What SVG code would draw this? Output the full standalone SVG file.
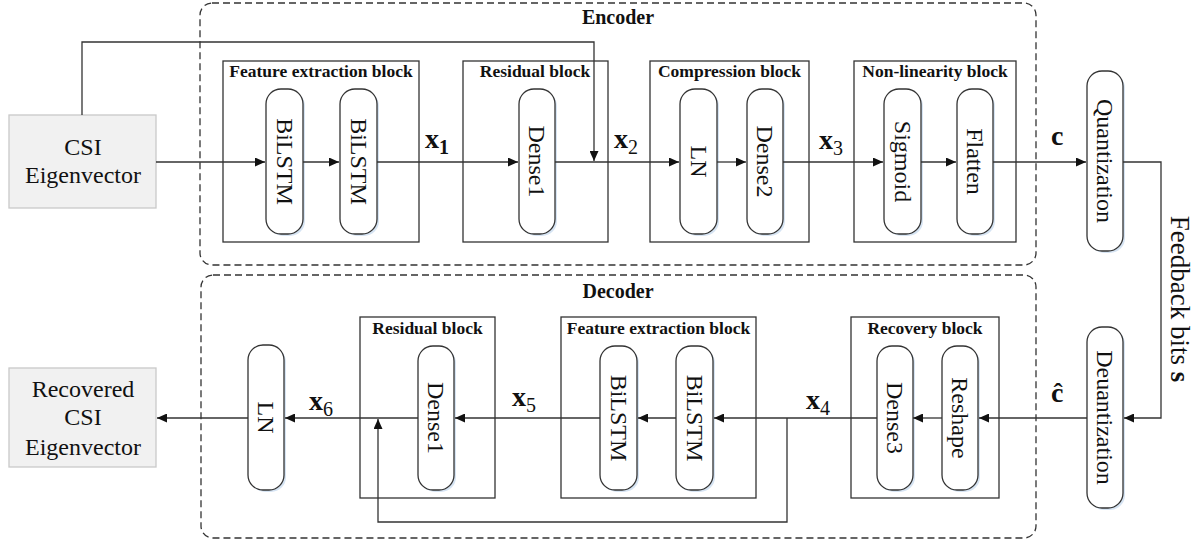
<svg xmlns="http://www.w3.org/2000/svg" width="1203" height="543" viewBox="0 0 1203 543">
<style>
.bg{fill:#ffffff}
.group{fill:none;stroke:#333;stroke-width:1.3;stroke-dasharray:7,4}
.blk{fill:none;stroke:#333;stroke-width:1.3}
.pill{fill:#ffffff;stroke:#333;stroke-width:1.3}
.shadow{fill:#d6e4f3}
.io{fill:#f1f1f1;stroke:#c9c9c9;stroke-width:1.3}
.t{font-family:"Liberation Serif","Times New Roman",serif;fill:#111}
.big{font-size:24px}
.title{font-size:20px;font-weight:bold}
.btitle{font-size:17.5px;font-weight:bold}
.var{font-size:28px;font-weight:bold}
.sub{font-size:20px}
.conn{fill:none;stroke:#333;stroke-width:1.3}
</style>
<defs>
<marker id="ah" markerUnits="userSpaceOnUse" markerWidth="11" markerHeight="9" refX="10" refY="4.5" orient="auto">
<path d="M0,0 L10,4.5 L0,9 z" fill="#111"/>
</marker>
</defs>
<rect class="bg" x="0" y="0" width="1203" height="543"/>

<g id="encoder">
<rect class="group" x="200" y="3" width="836" height="262" rx="12"/>
<text class="t title" x="618" y="24" text-anchor="middle">Encoder</text>
</g>
<g id="decoder">
<rect class="group" x="201" y="275" width="835" height="263" rx="12"/>
<text class="t title" x="618" y="298" text-anchor="middle">Decoder</text>
</g>

<g id="csi-in">
<rect class="io" x="9" y="115" width="147" height="93"/>
<text class="t big" x="83" y="155" text-anchor="middle">CSI</text>
<text class="t big" x="83" y="183" text-anchor="middle">Eigenvector</text>
</g>

<g id="enc-fe-block">
<rect class="blk" x="223" y="61" width="196" height="181"/>
<text class="t btitle" x="321" y="77" text-anchor="middle">Feature extraction block</text>
</g>
<g id="enc-bilstm1">
<rect class="shadow" x="268" y="91" width="37" height="145" rx="15"/>
<rect class="pill" x="266" y="89" width="37" height="145" rx="15"/>
<text class="t big" transform="translate(284.5,161.5) rotate(90)" text-anchor="middle" dy=".33em">BiLSTM</text>
</g>
<g id="enc-bilstm2">
<rect class="shadow" x="342" y="91" width="37" height="145" rx="15"/>
<rect class="pill" x="340" y="89" width="37" height="145" rx="15"/>
<text class="t big" transform="translate(358.5,161.5) rotate(90)" text-anchor="middle" dy=".33em">BiLSTM</text>
</g>

<g id="enc-res-block">
<rect class="blk" x="463" y="61" width="145" height="181"/>
<text class="t btitle" x="535" y="77" text-anchor="middle">Residual block</text>
</g>
<g id="enc-dense1">
<rect class="shadow" x="521" y="91" width="36" height="145" rx="15"/>
<rect class="pill" x="519" y="89" width="36" height="145" rx="15"/>
<text class="t big" transform="translate(537,161.5) rotate(90)" text-anchor="middle" dy=".33em">Dense1</text>
</g>

<g id="enc-comp-block">
<rect class="blk" x="650" y="61" width="159" height="181"/>
<text class="t btitle" x="729.5" y="77" text-anchor="middle">Compression block</text>
</g>
<g id="enc-ln">
<rect class="shadow" x="682" y="91" width="37" height="145" rx="15"/>
<rect class="pill" x="680" y="89" width="37" height="145" rx="15"/>
<text class="t big" transform="translate(698.5,161.5) rotate(90)" text-anchor="middle" dy=".33em">LN</text>
</g>
<g id="enc-dense2">
<rect class="shadow" x="749" y="91" width="36" height="145" rx="15"/>
<rect class="pill" x="747" y="89" width="36" height="145" rx="15"/>
<text class="t big" transform="translate(765,161.5) rotate(90)" text-anchor="middle" dy=".33em">Dense2</text>
</g>

<g id="enc-nl-block">
<rect class="blk" x="854" y="61" width="162" height="181"/>
<text class="t btitle" x="935" y="77" text-anchor="middle">Non-linearity block</text>
</g>
<g id="enc-sigmoid">
<rect class="shadow" x="886" y="91" width="37" height="145" rx="15"/>
<rect class="pill" x="884" y="89" width="37" height="145" rx="15"/>
<text class="t big" transform="translate(902.5,161.5) rotate(90)" text-anchor="middle" dy=".33em">Sigmoid</text>
</g>
<g id="enc-flatten">
<rect class="shadow" x="959" y="91" width="36" height="145" rx="15"/>
<rect class="pill" x="957" y="89" width="36" height="145" rx="15"/>
<text class="t big" transform="translate(975,161.5) rotate(90)" text-anchor="middle" dy=".33em">Flatten</text>
</g>

<g id="quantization">
<rect class="shadow" x="1089" y="73" width="36" height="180" rx="15"/>
<rect class="pill" x="1087" y="71" width="36" height="180" rx="15"/>
<text class="t big" transform="translate(1105,161) rotate(90)" text-anchor="middle" dy=".33em">Quantization</text>
</g>

<g id="deuantization">
<rect class="shadow" x="1089" y="329" width="36" height="181" rx="15"/>
<rect class="pill" x="1087" y="327" width="36" height="181" rx="15"/>
<text class="t big" transform="translate(1105,417.5) rotate(90)" text-anchor="middle" dy=".33em">Deuantization</text>
</g>

<g id="dec-rec-block">
<rect class="blk" x="851" y="317" width="148" height="181"/>
<text class="t btitle" x="925" y="334" text-anchor="middle">Recovery block</text>
</g>
<g id="dec-dense3">
<rect class="shadow" x="879" y="348" width="36" height="144" rx="15"/>
<rect class="pill" x="877" y="346" width="36" height="144" rx="15"/>
<text class="t big" transform="translate(895,418) rotate(90)" text-anchor="middle" dy=".33em">Dense3</text>
</g>
<g id="dec-reshape">
<rect class="shadow" x="944" y="348" width="36" height="144" rx="15"/>
<rect class="pill" x="942" y="346" width="36" height="144" rx="15"/>
<text class="t big" transform="translate(960,418) rotate(90)" text-anchor="middle" dy=".33em">Reshape</text>
</g>

<g id="dec-fe-block">
<rect class="blk" x="561" y="317" width="195" height="181"/>
<text class="t btitle" x="658.5" y="334" text-anchor="middle">Feature extraction block</text>
</g>
<g id="dec-bilstm1">
<rect class="shadow" x="602" y="348" width="37" height="144" rx="15"/>
<rect class="pill" x="600" y="346" width="37" height="144" rx="15"/>
<text class="t big" transform="translate(618.5,418) rotate(90)" text-anchor="middle" dy=".33em">BiLSTM</text>
</g>
<g id="dec-bilstm2">
<rect class="shadow" x="678" y="348" width="37" height="144" rx="15"/>
<rect class="pill" x="676" y="346" width="37" height="144" rx="15"/>
<text class="t big" transform="translate(694.5,418) rotate(90)" text-anchor="middle" dy=".33em">BiLSTM</text>
</g>

<g id="dec-res-block">
<rect class="blk" x="360" y="317" width="135" height="181"/>
<text class="t btitle" x="427.5" y="334" text-anchor="middle">Residual block</text>
</g>
<g id="dec-dense1">
<rect class="shadow" x="420" y="348" width="36" height="144" rx="15"/>
<rect class="pill" x="418" y="346" width="36" height="144" rx="15"/>
<text class="t big" transform="translate(436,418) rotate(90)" text-anchor="middle" dy=".33em">Dense1</text>
</g>

<g id="dec-ln">
<rect class="shadow" x="250" y="347" width="36" height="145" rx="15"/>
<rect class="pill" x="248" y="345" width="36" height="145" rx="15"/>
<text class="t big" transform="translate(266,417.5) rotate(90)" text-anchor="middle" dy=".33em">LN</text>
</g>

<g id="csi-out">
<rect class="io" x="9" y="368" width="147" height="99"/>
<text class="t big" x="83" y="397" text-anchor="middle">Recovered</text>
<text class="t big" x="83" y="425" text-anchor="middle">CSI</text>
<text class="t big" x="83" y="455" text-anchor="middle">Eigenvector</text>
</g>

<g id="connectors">
<path class="conn" d="M156,162 H265" marker-end="url(#ah)"/>
<path class="conn" d="M303,162 H339" marker-end="url(#ah)"/>
<path class="conn" d="M377,162 H518" marker-end="url(#ah)"/>
<path class="conn" d="M555,162 H679" marker-end="url(#ah)"/>
<path class="conn" d="M717,162 H746" marker-end="url(#ah)"/>
<path class="conn" d="M783,162 H883" marker-end="url(#ah)"/>
<path class="conn" d="M921,162 H956" marker-end="url(#ah)"/>
<path class="conn" d="M993,162 H1086" marker-end="url(#ah)"/>
<path class="conn" d="M82,115 V42 H594 V161" marker-end="url(#ah)"/>
<path class="conn" d="M1123,162 H1161 V418 H1124" marker-end="url(#ah)"/>
<path class="conn" d="M1087,418 H979" marker-end="url(#ah)"/>
<path class="conn" d="M942,418 H913" marker-end="url(#ah)"/>
<path class="conn" d="M877,418 H714" marker-end="url(#ah)"/>
<path class="conn" d="M676,418 H638" marker-end="url(#ah)"/>
<path class="conn" d="M600,418 H455" marker-end="url(#ah)"/>
<path class="conn" d="M418,418 H285" marker-end="url(#ah)"/>
<path class="conn" d="M248,418 H157" marker-end="url(#ah)"/>
<path class="conn" d="M787,418 V522 H378 V419" marker-end="url(#ah)"/>
</g>

<g id="labels">
<text class="t var" x="425" y="148">x<tspan class="sub" font-weight="bold" dy="6">1</tspan></text>
<text class="t var" x="614" y="148">x<tspan class="sub" font-weight="normal" dy="6">2</tspan></text>
<text class="t var" x="819" y="149">x<tspan class="sub" font-weight="normal" dy="6">3</tspan></text>
<text class="t var" x="1051" y="145">c</text>
<text class="t var" x="806" y="409">x<tspan class="sub" font-weight="normal" dy="6">4</tspan></text>
<text class="t var" x="512" y="406">x<tspan class="sub" font-weight="normal" dy="6">5</tspan></text>
<text class="t var" x="309" y="410">x<tspan class="sub" font-weight="normal" dy="6">6</tspan></text>
<text class="t var" x="1051" y="402">ĉ</text>
<text class="t" font-size="27" transform="translate(1180,299) rotate(90)" text-anchor="middle" dy=".33em">Feedback bits <tspan font-weight="bold">s</tspan></text>
</g>
</svg>
